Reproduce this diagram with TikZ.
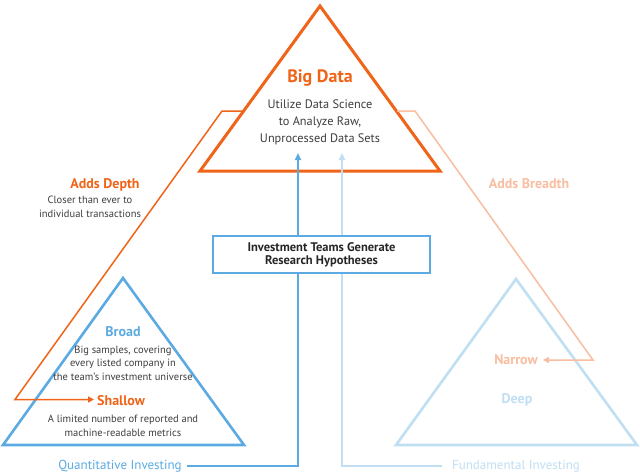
\documentclass[tikz,border=0pt]{standalone}
\usepackage{fontspec}
\setmainfont{PT Sans}
\usepackage{tikz}
\usetikzlibrary{arrows.meta,positioning}
\definecolor{bigorange}{RGB}{240,100,25}
\definecolor{peach}{RGB}{249,190,160}
\definecolor{quantblue}{RGB}{92,170,226}
\definecolor{paleblue}{RGB}{192,223,243}
\definecolor{bodygrey}{RGB}{62,62,62}
\tikzset{
  pyramid/.style={line width=3pt,line join=miter},
  minipyr/.style={line width=2.6pt,line join=miter},
  headline/.style={font=\fontsize{14}{16}\selectfont\bfseries,inner sep=0pt},
  bodytext/.style={font=\fontsize{10.5}{13.5}\selectfont,text=bodygrey,align=center,
                   inner sep=0pt},
  trail/.style={line width=1.5pt,-{Triangle[length=6pt,width=6pt]}},
  feed/.style={line width=2pt,-{Triangle[length=7pt,width=6pt]}},
  hypbox/.style={draw=quantblue,fill=white,line width=2.2pt,minimum width=217pt,
                 minimum height=37pt,align=center,text=black!85,
                 font=\fontsize{12.5}{13}\selectfont\bfseries},
  lowlabel/.style={font=\fontsize{13}{15}\selectfont,inner sep=0pt},
}

\begin{document}
\begin{tikzpicture}[x=1pt,y=-1pt]
  \useasboundingbox (0,0) rectangle (640,475);
  \fill[white] (0,0) rectangle (640,475);
  % corners of the three pyramids
  \coordinate (bigtop) at (320,6);
  \coordinate (bigl) at (200,171);
  \coordinate (bigr) at (440,171);
  \coordinate (quanttop) at (123,278);
  \coordinate (quantl) at (3,445);
  \coordinate (quantr) at (244,445);
  \coordinate (fundtop) at (516,279);
  \coordinate (fundl) at (396,445);
  \coordinate (fundr) at (637,445);
  % bends of the side trails and the tips of the feeds
  \coordinate (depthfoot) at (243,111);
  \coordinate (depthbend) at (222,111);
  \coordinate (depthlow) at (15,399.5);
  \coordinate (breadthfoot) at (397,111);
  \coordinate (breadthbend) at (415,111);
  \coordinate (breadthlow) at (593,360);
  \coordinate (quanttip) at (298,153);
  \coordinate (fundtip) at (342,153);

  \draw[pyramid,bigorange] (bigtop) -- (bigl) -- (bigr) -- cycle;
  \draw[minipyr,quantblue] (quanttop) -- (quantl) -- (quantr) -- cycle;
  \draw[minipyr,paleblue] (fundtop) -- (fundl) -- (fundr) -- cycle;

  % texts
  \node[headline,font=\fontsize{18}{20}\selectfont\bfseries,text=bigorange,anchor=base]
    (bigdata) at (320,82) {Big Data};
  \node[bodytext,font=\fontsize{12.3}{17}\selectfont] (bigdesc) at (320,122)
    {Utilize Data Science\\to Analyze Raw,\\Unprocessed Data Sets};
  \node[headline,text=bigorange,anchor=base] (depth) at (105,188) {Adds Depth};
  \node[bodytext] (depthdesc) at (90,207) {Closer than ever to\\individual transactions};
  \node[headline,text=peach,anchor=base] (breadth) at (529,188) {Adds Breadth};
  \node[headline,text=quantblue,anchor=base] (broad) at (123,336) {Broad};
  \node[bodytext] (broaddesc) at (123,363)
    {Big samples, covering\\every listed company in\\the team's investment universe};
  \node[headline,text=bigorange,anchor=base west] (shallow) at (97,405) {Shallow};
  \node[bodytext] (shallowdesc) at (123,426)
    {A limited number of reported and\\machine-readable metrics};
  \node[headline,text=peach,anchor=base] (narrow) at (516,364.5) {Narrow};
  \node[headline,text=paleblue,anchor=base] (deep) at (517,403) {Deep};
  \node[lowlabel,text=quantblue,anchor=base] (quant) at (120,469) {Quantitative Investing};
  \node[lowlabel,text=paleblue,anchor=base] (fund) at (516,469) {Fundamental Investing};

  % side trails
  \draw[trail,bigorange] (depthfoot) -- (depthbend) -- (depthlow)
    -- ([xshift=-3pt]shallow.west |- depthlow);
  \draw[trail,peach] (breadthfoot) -- (breadthbend) -- (breadthlow)
    -- ([xshift=5pt]narrow.east |- breadthlow);
  % feeds into the big data pyramid
  \draw[feed,quantblue] ([xshift=5pt]quant.east) -| (quanttip);
  \draw[feed,paleblue] ([xshift=-10pt]fund.west) -| (fundtip);

  \node[hypbox] (hyp) at (321.5,254.5)
    {Investment Teams Generate\\Research Hypotheses};
\end{tikzpicture}
\end{document}
